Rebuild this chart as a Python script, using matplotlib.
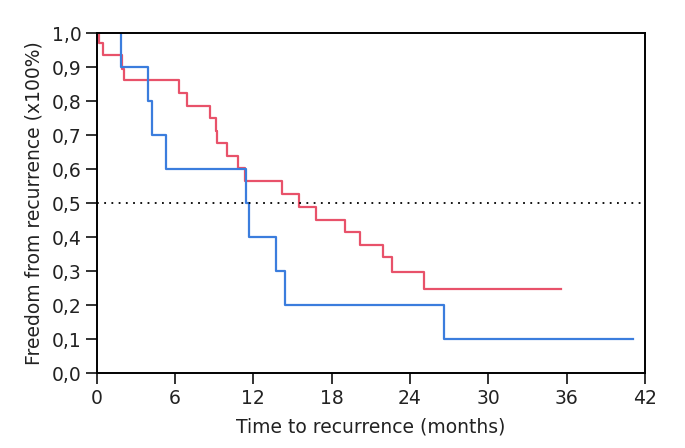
import numpy as np
import matplotlib.pyplot as plt
from matplotlib.ticker import FuncFormatter

# Kaplan-Meier style curves
red_t = [0, 0.15, 0.45, 1.9, 2.1, 6.3, 6.9, 8.7, 9.1, 9.2, 10.0, 10.8, 11.35,
         14.2, 15.5, 16.8, 19.05, 20.15, 21.95, 22.6, 25.05, 35.6]
red_s = [1.0, 0.972, 0.936, 0.895, 0.862, 0.824, 0.787, 0.751, 0.714, 0.677,
         0.640, 0.603, 0.565, 0.528, 0.490, 0.452, 0.415, 0.378, 0.342, 0.298,
         0.249, 0.249]

blue_t = [1.85, 1.85, 3.95, 4.25, 5.3, 11.45, 11.65, 13.75, 14.45, 26.6, 41.1]
blue_s = [1.0, 0.9, 0.8, 0.7, 0.6, 0.5, 0.4, 0.3, 0.2, 0.1, 0.1]

x_ticks = [0, 6, 12, 18, 24, 30, 36, 42]
y_ticks = np.arange(0, 1.01, 0.1)

fig = plt.figure(figsize=(6.85, 4.48), dpi=100)
ax = fig.add_axes([0.1412, 0.1663, 0.8004, 0.7594])

ax.step(red_t, red_s, where="post", color="#e8526a", lw=1.6)
ax.step(blue_t, blue_s, where="post", color="#3b7ddd", lw=1.6)
ax.axhline(0.5, color="black", ls=(0, (1, 3)), lw=1.3)

ax.set_xlim(0, 42)
ax.set_ylim(0, 1.0)
ax.set_xticks(x_ticks)
ax.set_yticks(y_ticks)
ax.yaxis.set_major_formatter(FuncFormatter(lambda v, p: f"{v:.1f}".replace(".", ",")))
ax.tick_params(direction="out", length=8, width=1.3, labelsize=13.5, colors="#222222", pad=3)
for sp in ax.spines.values():
    sp.set_linewidth(1.4)

ax.set_xlabel("Time to recurrence (months)", fontsize=13.5, labelpad=7, color="#222222")
ax.set_ylabel("Freedom from recurrence (x100%)", fontsize=13.5, labelpad=6, color="#222222")

fig.savefig("out.png", dpi=100)
